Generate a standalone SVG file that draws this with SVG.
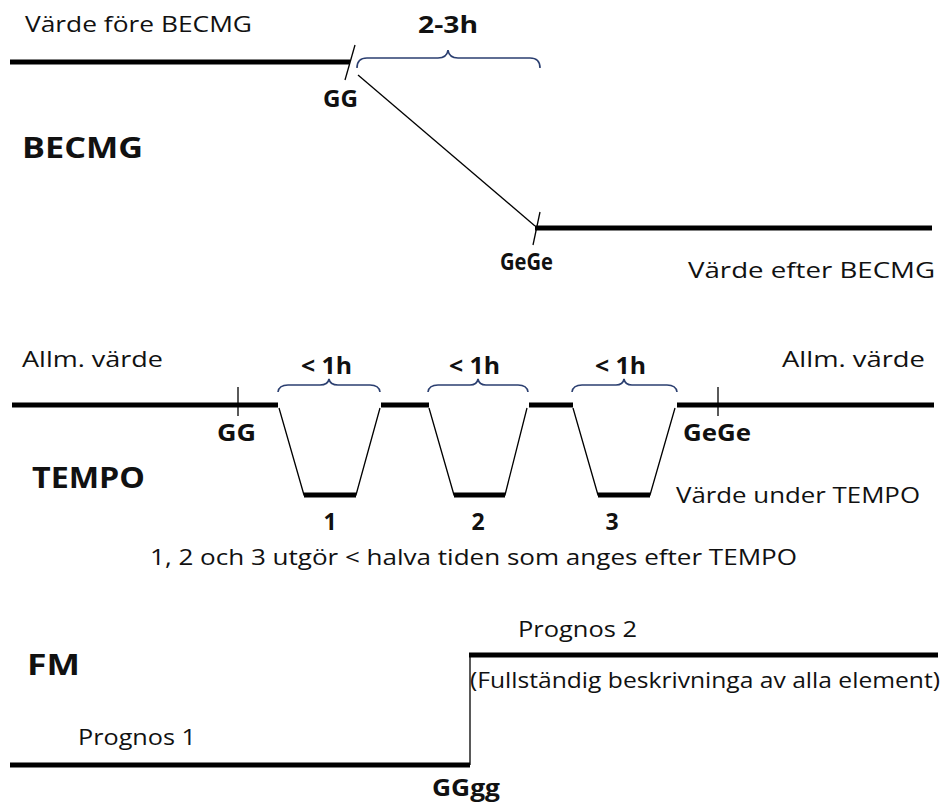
<svg xmlns="http://www.w3.org/2000/svg" width="947" height="808" viewBox="0 0 947 808">
<style>
text{font-family:"Open Sans","Noto Sans",sans-serif;fill:#111;}
.n{font-size:22px;}
.b{font-weight:bold;font-size:23px;}
.h{font-weight:bold;font-size:29px;}
.thick{stroke:#000;stroke-width:5;fill:none;}
.thin{stroke:#000;stroke-width:1.3;fill:none;}
.brace{stroke:#2b3f70;stroke-width:1.6;fill:none;}
</style>
<rect width="947" height="808" fill="#fff"/>
<g id="becmg">
  <text class="n" x="25" y="32" textLength="227" lengthAdjust="spacingAndGlyphs">Värde före BECMG</text>
  <text class="b" x="418" y="33" textLength="60" lengthAdjust="spacingAndGlyphs">2-3h</text>
  <text class="b" x="323" y="107" textLength="35" lengthAdjust="spacingAndGlyphs">GG</text>
  <text class="h" x="22" y="158" textLength="121" lengthAdjust="spacingAndGlyphs">BECMG</text>
  <text class="b" x="500" y="270" textLength="53" lengthAdjust="spacingAndGlyphs" font-weight="600">GeGe</text>
  <text class="n" x="688" y="278" textLength="247" lengthAdjust="spacingAndGlyphs">Värde efter BECMG</text>
</g>
<g id="tempo">
  <text class="n" x="22" y="367" textLength="141" lengthAdjust="spacingAndGlyphs">Allm. värde</text>
  <text class="n" x="782" y="367" textLength="143" lengthAdjust="spacingAndGlyphs">Allm. värde</text>
  <text class="b" x="301" y="374" textLength="51" lengthAdjust="spacingAndGlyphs">&lt; 1h</text>
  <text class="b" x="449" y="374" textLength="51" lengthAdjust="spacingAndGlyphs">&lt; 1h</text>
  <text class="b" x="595" y="374" textLength="51" lengthAdjust="spacingAndGlyphs">&lt; 1h</text>
  <text class="b" x="217" y="441" textLength="39" lengthAdjust="spacingAndGlyphs">GG</text>
  <text class="b" x="683" y="441" textLength="68" lengthAdjust="spacingAndGlyphs">GeGe</text>
  <text class="h" x="32" y="488" textLength="113" lengthAdjust="spacingAndGlyphs">TEMPO</text>
  <text class="n" x="676" y="503" textLength="244" lengthAdjust="spacingAndGlyphs">Värde under TEMPO</text>
  <text class="b" x="330" y="530" text-anchor="middle">1</text>
  <text class="b" x="478" y="530" text-anchor="middle">2</text>
  <text class="b" x="612" y="530" text-anchor="middle">3</text>
  <text class="n" x="150" y="565" textLength="647" lengthAdjust="spacingAndGlyphs">1, 2 och 3 utgör &lt; halva tiden som anges efter TEMPO</text>
</g>
<g id="fm">
  <text class="n" x="518" y="637" textLength="119" lengthAdjust="spacingAndGlyphs">Prognos 2</text>
  <text class="h" x="27" y="675" textLength="53" lengthAdjust="spacingAndGlyphs">FM</text>
  <text class="n" x="470" y="688" font-size="20" textLength="470" lengthAdjust="spacingAndGlyphs">(Fullständig beskrivninga av alla element)</text>
  <text class="n" x="78" y="745" textLength="118" lengthAdjust="spacingAndGlyphs">Prognos 1</text>
  <text class="b" x="432" y="796" textLength="68" lengthAdjust="spacingAndGlyphs">GGgg</text>
</g>
<g id="connectors">
  <line class="thick" x1="10" y1="62" x2="350" y2="62"/>
  <line class="thin" x1="355" y1="45" x2="345" y2="80"/>
  <path class="brace" d="M357,68 Q357,58 367,58 L438,58 Q447,58 448,50 Q449,58 458,58 L530,58 Q540,58 540,68"/>
  <line class="thin" x1="358" y1="75" x2="535" y2="226"/>
  <line class="thick" x1="535" y1="228" x2="932" y2="228"/>
  <line class="thin" x1="540" y1="212" x2="533" y2="245"/>
  <line class="thick" x1="12" y1="405" x2="278" y2="405"/>
  <line class="thick" x1="381" y1="405" x2="429" y2="405"/>
  <line class="thick" x1="529" y1="405" x2="573" y2="405"/>
  <line class="thick" x1="677" y1="405" x2="934" y2="405"/>
  <line class="thin" x1="238" y1="387" x2="238" y2="416"/>
  <line class="thin" x1="718" y1="387" x2="718" y2="416"/>
  <path class="brace" d="M278,392 Q279,385 288,385 L320,385 Q328,385 329,379 Q330,385 338,385 L370,385 Q379,385 380,392"/>
  <path class="brace" d="M428,392 Q429,385 438,385 L470,385 Q477,385 478,379 Q479,385 486,385 L518,385 Q527,385 528,392"/>
  <path class="brace" d="M572,392 Q573,385 582,385 L616,385 Q623,385 624,379 Q625,385 632,385 L667,385 Q676,385 677,392"/>
  <polyline class="thin" points="279,408 304,495 356,495 380,408"/>
  <polyline class="thin" points="429,408 454,495 505,495 527,408"/>
  <polyline class="thin" points="573,408 598,495 650,495 675,408"/>
  <line class="thick" x1="304" y1="495" x2="356" y2="495"/>
  <line class="thick" x1="454" y1="495" x2="505" y2="495"/>
  <line class="thick" x1="598" y1="495" x2="650" y2="495"/>
  <line class="thick" x1="10" y1="765" x2="470" y2="765"/>
  <line class="thin" x1="470" y1="655" x2="470" y2="765" stroke-width="2"/>
  <line class="thick" x1="469" y1="655" x2="938" y2="655"/>
</g>
</svg>
